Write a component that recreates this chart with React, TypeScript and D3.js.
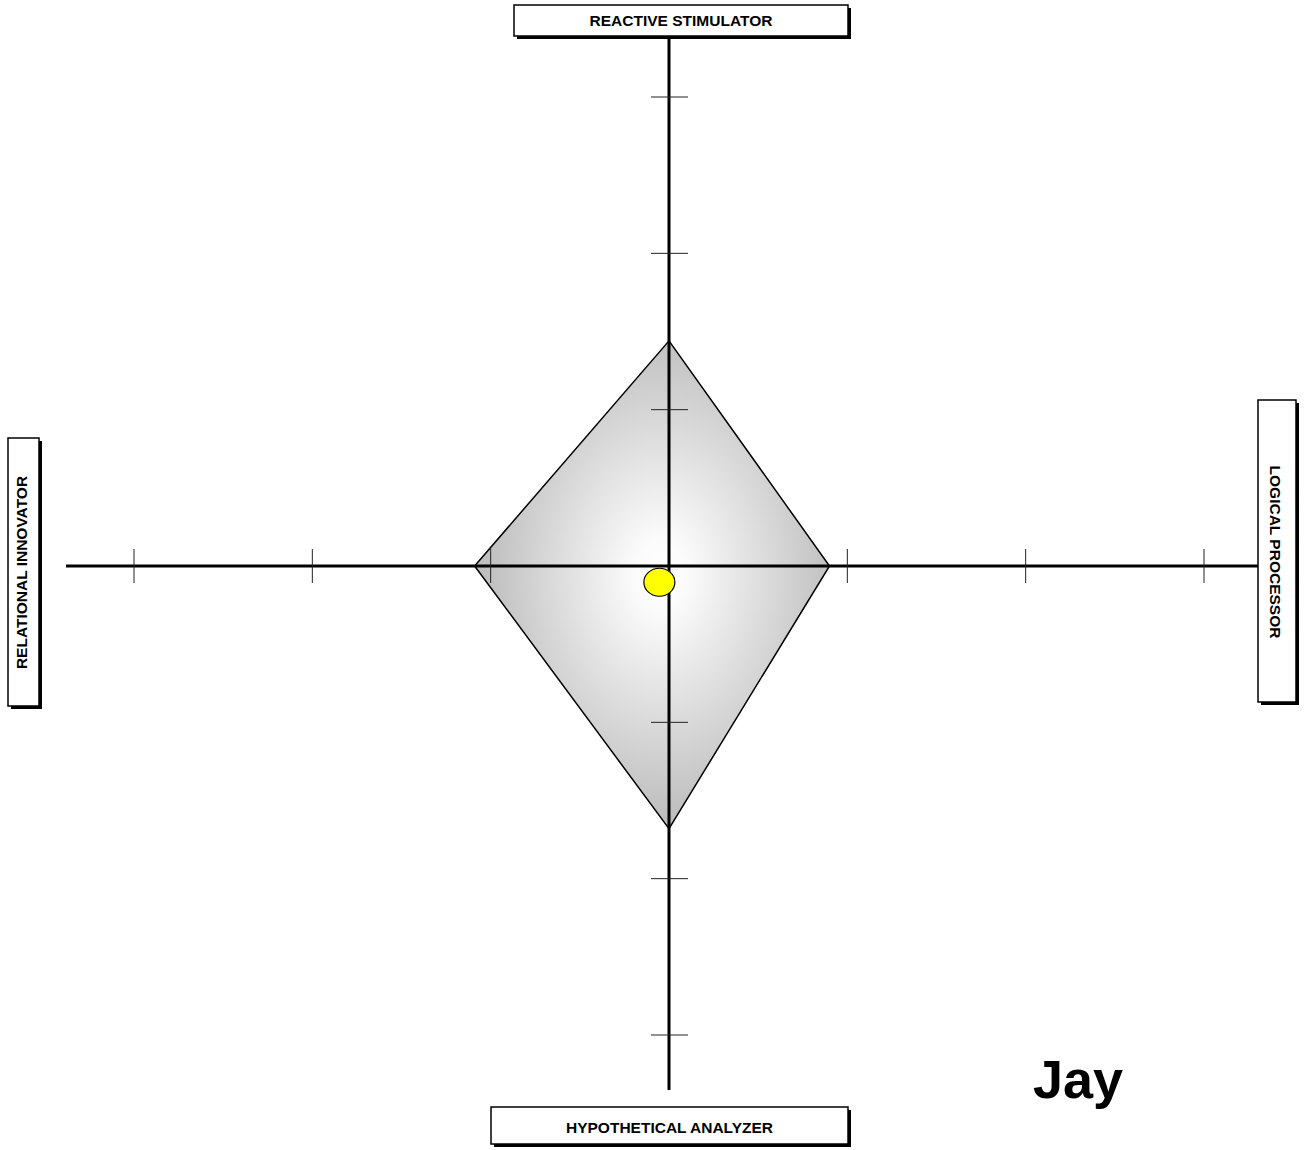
import React from "react";
import * as d3 from "d3";

const axisTicks = [-3, -2, -1, 1, 2, 3];
const quadrantLabels = ["REACTIVE STIMULATOR", "LOGICAL PROCESSOR", "HYPOTHETICAL ANALYZER", "RELATIONAL INNOVATOR"];
// diamond vertices: [x, y] in axis units (up = Reactive, right = Logical)
const diamondX = [0, 0.9, 0, -1.09];
const diamondY = [1.44, 0, -1.68, 0];
const dotX = [-0.054];
const dotY = [-0.104];
const personName = "Jay";

const W = 1304;
const H = 1150;

export default function App() {
  const x = d3.scaleLinear().domain([-3, 3]).range([134, 1204]);
  const y = d3.scaleLinear().domain([-3, 3]).range([1035, 97]);
  const cx = x(0);
  const cy = y(0);

  const pts: [number, number][] = diamondX.map((v, i) => [x(v), y(diamondY[i])]);
  const line = d3.line().curve(d3.curveLinearClosed);
  const diamondPath = line(pts) || "";

  const font = "'Liberation Sans', Arial, sans-serif";
  const fs = 15.5;

  const box = (bx: number, by: number, bw: number, bh: number) => (
    <g>
      <rect x={bx + 3} y={by + 3} width={bw} height={bh} fill="#000" />
      <rect x={bx} y={by} width={bw} height={bh} fill="#fff" stroke="#000" strokeWidth={1.5} />
    </g>
  );

  return (
    <svg width={W} height={H} style={{ position: "absolute", left: 0, top: 0 }}>
      <defs>
        <radialGradient id="dg" cx="0.524" cy="0.48" r="0.5" fx="0.524" fy="0.48">
          <stop offset="0" stopColor="#ffffff" />
          <stop offset="0.15" stopColor="#fbfbfb" />
          <stop offset="1" stopColor="#bebebe" />
        </radialGradient>
      </defs>
      <rect width={W} height={H} fill="#fff" />

      {/* diamond */}
      <path d={diamondPath} fill="url(#dg)" stroke="#000" strokeWidth={1.5} strokeLinejoin="miter" />

      {/* axes */}
      <line x1={cx} x2={cx} y1={37} y2={1090} stroke="#000" strokeWidth={3} />
      <line x1={66} x2={1258} y1={cy} y2={cy} stroke="#000" strokeWidth={3} />

      {axisTicks.map((t) => (
        <line key={"hx" + t} x1={x(t)} x2={x(t)} y1={cy - 17} y2={cy + 17} stroke="#222" strokeWidth={1} />
      ))}
      {axisTicks.map((t) => (
        <line key={"vy" + t} x1={cx - 18} x2={cx + 19} y1={y(t)} y2={y(t)} stroke="#222" strokeWidth={1} />
      ))}

      {/* dot */}
      <ellipse cx={x(dotX[0])} cy={y(dotY[0])} rx={15.5} ry={14} fill="#ffff00" stroke="#000" strokeWidth={1.2} />

      {/* label boxes */}
      {box(514, 5, 334, 31)}
      <text x={681} y={26} textAnchor="middle" fontFamily={font} fontWeight="bold" fontSize={fs}>
        {quadrantLabels[0]}
      </text>

      {box(1258, 400, 38, 302)}
      <text transform={`translate(1270,552) rotate(90)`} textAnchor="middle" fontFamily={font} fontWeight="bold" fontSize={fs}>
        {quadrantLabels[1]}
      </text>

      {box(491, 1107, 357, 37)}
      <text x={669.5} y={1132.5} textAnchor="middle" fontFamily={font} fontWeight="bold" fontSize={fs}>
        {quadrantLabels[2]}
      </text>

      {box(8, 438, 31, 268)}
      <text transform={`translate(26.5,572.5) rotate(-90)`} textAnchor="middle" fontFamily={font} fontWeight="bold" fontSize={fs}>
        {quadrantLabels[3]}
      </text>

      <text x={1033} y={1098} fontFamily={font} fontWeight="bold" fontSize={54}>
        {personName}
      </text>
    </svg>
  );
}
